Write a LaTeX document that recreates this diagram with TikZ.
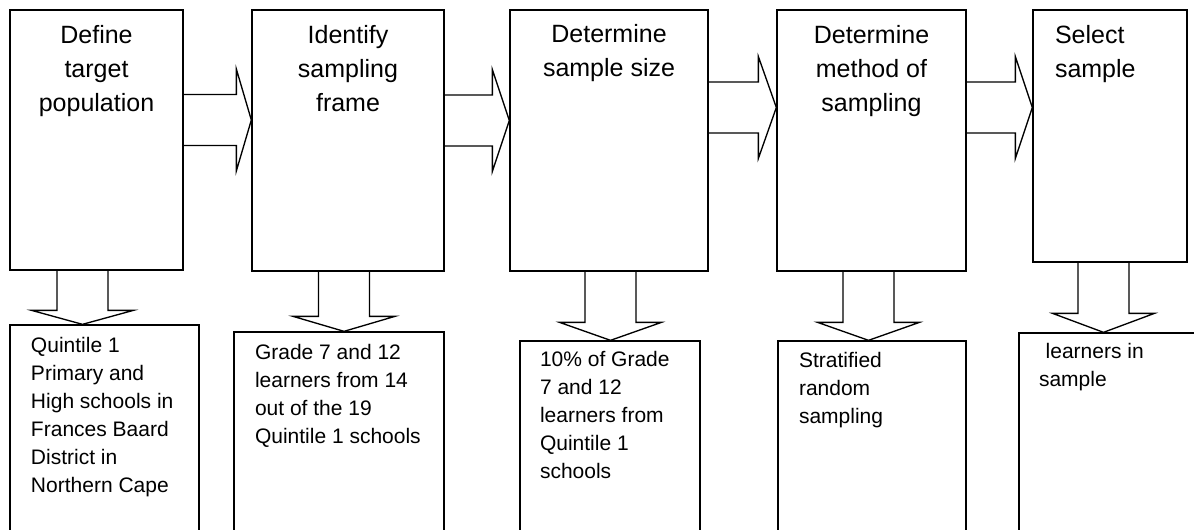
\documentclass[tikz,border=0pt]{standalone}
\usepackage{fontspec}
\setmainfont{Liberation Sans}
\usetikzlibrary{calc}

\begin{document}
\begin{tikzpicture}[x=0.75pt,y=-0.75pt,line width=1pt,line join=miter,
        stepbox/.style={draw,rectangle,inner sep=0pt},
        steptext/.style={anchor=north,align=center,inner sep=0pt,font=\fontsize{18.75}{25.5}\selectfont},
        resultbox/.style={draw,rectangle,inner sep=0pt},
        resulttext/.style={anchor=north west,align=left,inner sep=0pt,font=\fontsize{15.75}{21}\selectfont},
        blockarrow/.style={draw}]

      \clip (0,0) rectangle (1194,529);

      % steps along the top
      \node[stepbox,minimum width=129.75pt,minimum height=195pt]   (s1) at (96.5,140)   {};
      \node[stepbox,minimum width=144pt,minimum height=195.75pt]   (s2) at (348,140.5)  {};
      \node[stepbox,minimum width=148.5pt,minimum height=195.75pt] (s3) at (609,140.5)  {};
      \node[stepbox,minimum width=141.75pt,minimum height=195.75pt](s4) at (871.5,140.5){};
      \node[stepbox,minimum width=115.5pt,minimum height=189pt]    (s5) at (1110,136)   {};

      \node[steptext] (t1) at ($(s1.north)+(0,15)$) {Define\\target\\population};
      \node[steptext] (t2) at ($(s2.north)+(0,15)$) {Identify\\sampling\\frame};
      \node[steptext] (t3) at ($(s3.north)+(0,14)$) {Determine\\sample size};
      \node[steptext] (t4) at ($(s4.north)+(0,15)$) {Determine\\method of\\sampling};
      \node[steptext,anchor=north west,align=left] (t5) at ($(s5.north west)+(22,15)$) {Select\\sample};

      % results below
      \node[resultbox,minimum width=141.75pt,minimum height=161.25pt] (r1) at (104.5,432.5) {};
      \node[resultbox,minimum width=157.5pt,minimum height=156pt]     (r2) at (339,436)     {};
      \node[resultbox,minimum width=135pt,minimum height=149.25pt]    (r3) at (610,440.5)   {};
      \node[resultbox,minimum width=141pt,minimum height=149.25pt]    (r4) at (872,440.5)   {};
      \node[resultbox,minimum width=135.75pt,minimum height=155.25pt] (r5) at (1109.5,436.5){};

      \node[resulttext] (u1) at ($(r1.north west)+(21,12)$) {Quintile 1\\Primary and\\High schools in\\Frances Baard\\District in\\Northern Cape};
      \node[resulttext] (u2) at ($(r2.north west)+(21,12)$) {Grade 7 and 12\\learners from 14\\out of the 19\\Quintile 1 schools};
      \node[resulttext] (u3) at ($(r3.north west)+(20,10)$) {10\% of Grade\\7 and 12\\learners from\\Quintile 1\\schools};
      \node[resulttext] (u4) at ($(r4.north west)+(21,11)$) {Stratified\\random\\sampling};
      \node[resulttext] (u5) at ($(r5.north west)+(20,10)$) {\hspace*{5pt}learners in\\sample};

      % block arrows between the steps
      \foreach \a/\b/\y/\h in {s1/s2/120/15, s2/s3/120.5/17, s3/s4/107.5/18, s4/s5/107.5/17}
        \draw[blockarrow] (\a.east |- 0,\y-25.5) -- ($(\b.west |- 0,\y)+(-\h,-25.5)$) -- ++(0,-25.5)
              -- (\b.west |- 0,\y) -- ++(-\h,51) -- ++(0,-25.5) -- (\a.east |- 0,\y+25.5);

      % block arrows down to the results
      \foreach \a/\b/\x/\h in {s1/r1/82.5/14, s2/r2/344/15, s3/r3/610.5/18, s4/r4/868.5/18, s5/r5/1103.5/19}
        \draw[blockarrow] (\a.south -| \x-25.5,0) -- ($(\b.north -| \x,0)+(-25.5,-\h)$) -- ++(-25.5,0)
              -- (\b.north -| \x,0) -- ++(51,-\h) -- ++(-25.5,0) -- (\a.south -| \x+25.5,0);
    \end{tikzpicture}
\end{document}
